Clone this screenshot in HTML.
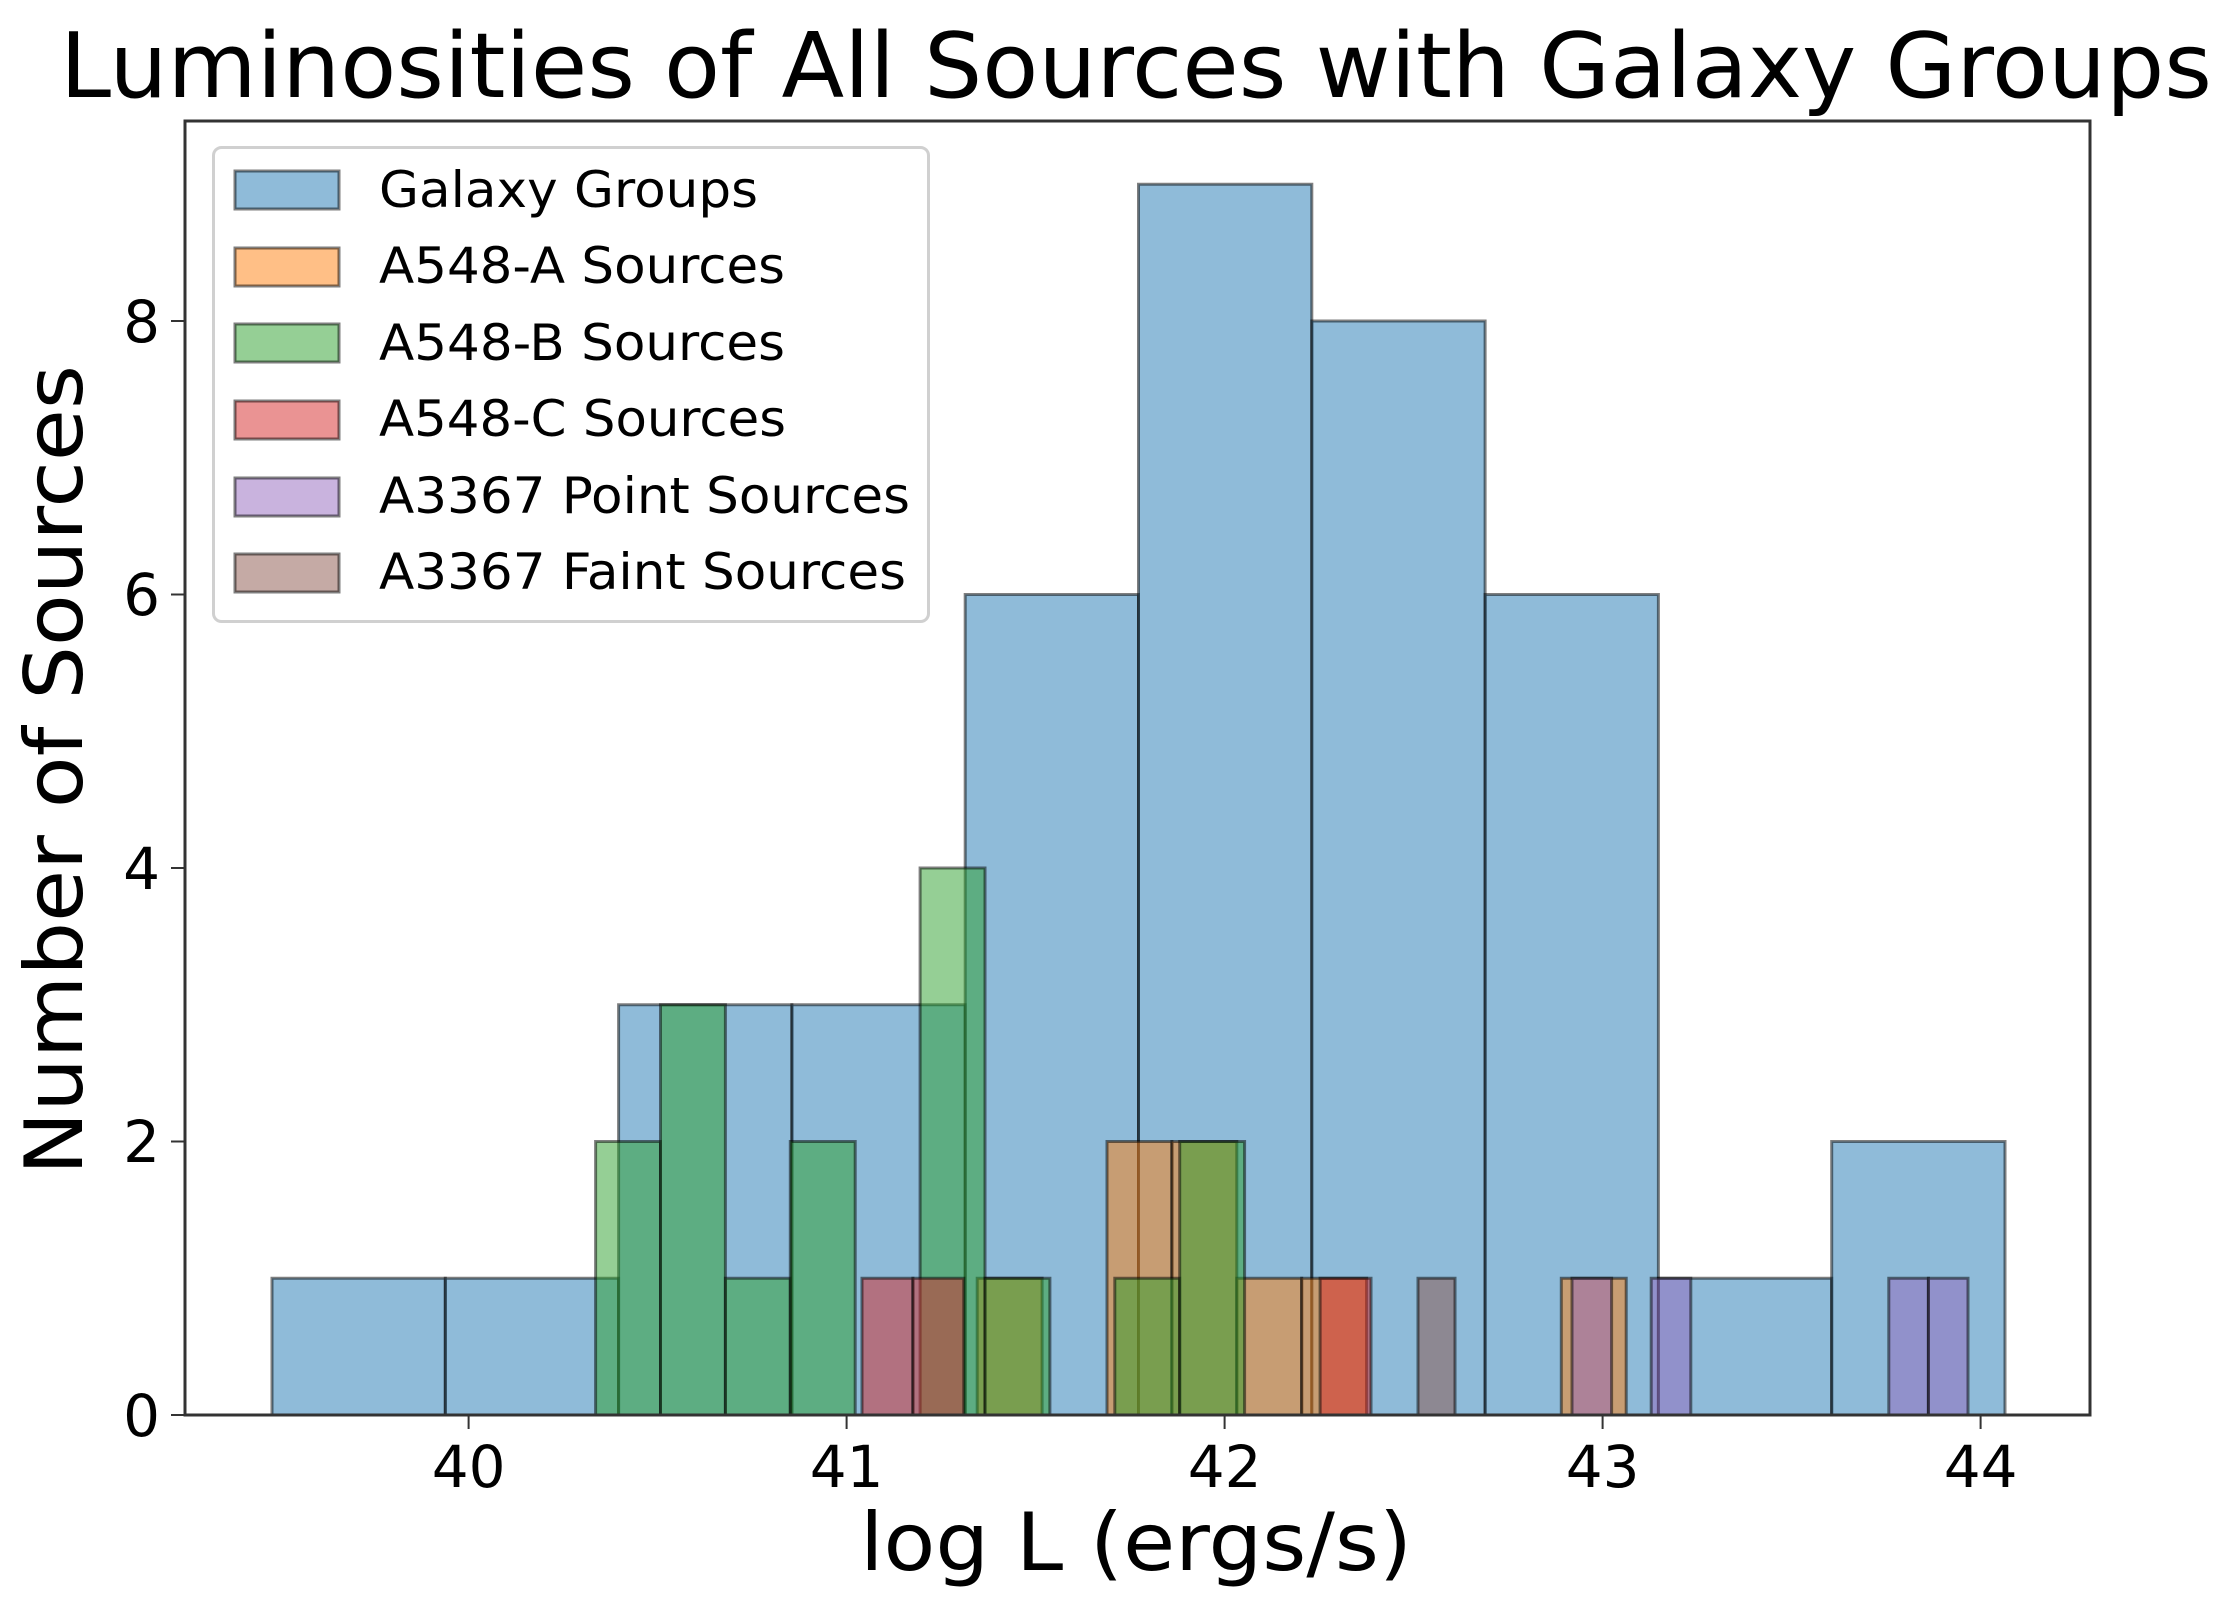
<!DOCTYPE html>
<html><head><meta charset="utf-8"><style>
html,body{margin:0;padding:0;background:#fff}
svg{display:block}
text{font-family:"DejaVu Sans","Liberation Sans",sans-serif;fill:#000}
</style></head><body>
<svg width="2230" height="1615" viewBox="0 0 2230 1615" xmlns="http://www.w3.org/2000/svg">
<rect width="2230" height="1615" fill="#fff"/>
<text x="60" y="97" font-size="90" textLength="2152" lengthAdjust="spacingAndGlyphs">Luminosities of All Sources with Galaxy Groups</text>

<g stroke="#000" stroke-opacity="0.5" stroke-width="3">
<g fill="#1f77b4" fill-opacity="0.5">
<rect x="272" y="1278.25" width="173.3" height="136.75"/>
<rect x="445.3" y="1278.25" width="173.3" height="136.75"/>
<rect x="618.6" y="1004.75" width="173.3" height="410.25"/>
<rect x="791.9" y="1004.75" width="173.3" height="410.25"/>
<rect x="965.2" y="594.5" width="173.3" height="820.5"/>
<rect x="1138.5" y="184.25" width="173.3" height="1230.75"/>
<rect x="1311.8" y="321" width="173.3" height="1094"/>
<rect x="1485.1" y="594.5" width="173.3" height="820.5"/>
<rect x="1658.4" y="1278.25" width="173.3" height="136.75"/>
<rect x="1831.7" y="1141.5" width="173.3" height="273.5"/>
</g>
<g fill="#ff7f0e" fill-opacity="0.5">
<rect x="977.2" y="1278.25" width="64.9" height="136.75"/>
<rect x="1107" y="1141.5" width="64.9" height="273.5"/>
<rect x="1171.9" y="1141.5" width="64.9" height="273.5"/>
<rect x="1236.8" y="1278.25" width="64.9" height="136.75"/>
<rect x="1301.7" y="1278.25" width="64.9" height="136.75"/>
<rect x="1561.3" y="1278.25" width="64.9" height="136.75"/>
</g>
<g fill="#2ca02c" fill-opacity="0.5">
<rect x="595.6" y="1141.5" width="64.9" height="273.5"/>
<rect x="660.5" y="1004.75" width="64.9" height="410.25"/>
<rect x="725.4" y="1278.25" width="64.9" height="136.75"/>
<rect x="790.3" y="1141.5" width="64.9" height="273.5"/>
<rect x="920.1" y="868" width="64.9" height="547"/>
<rect x="985" y="1278.25" width="64.9" height="136.75"/>
<rect x="1114.8" y="1278.25" width="64.9" height="136.75"/>
<rect x="1179.7" y="1141.5" width="64.9" height="273.5"/>
</g>
<g fill="#d62728" fill-opacity="0.5">
<rect x="862" y="1278.25" width="50.9" height="136.75"/>
<rect x="912.9" y="1278.25" width="50.9" height="136.75"/>
<rect x="1320.1" y="1278.25" width="50.9" height="136.75"/>
</g>
<g fill="#9467bd" fill-opacity="0.5">
<rect x="1572" y="1278.25" width="39.6" height="136.75"/>
<rect x="1651.2" y="1278.25" width="39.6" height="136.75"/>
<rect x="1888.8" y="1278.25" width="39.6" height="136.75"/>
<rect x="1928.4" y="1278.25" width="39.6" height="136.75"/>
</g>
<g fill="#8c564b" fill-opacity="0.5">
<rect x="1418" y="1278.25" width="37" height="136.75"/>
</g>
</g>

<rect x="185" y="121" width="1905" height="1294" fill="none" stroke="#333" stroke-width="3"/>

<g stroke="#333" stroke-width="2">
<line x1="468.6" y1="1415" x2="468.6" y2="1429"/>
<line x1="846.6" y1="1415" x2="846.6" y2="1429"/>
<line x1="1224.6" y1="1415" x2="1224.6" y2="1429"/>
<line x1="1602.6" y1="1415" x2="1602.6" y2="1429"/>
<line x1="1980.6" y1="1415" x2="1980.6" y2="1429"/>
<line x1="171" y1="1415" x2="185" y2="1415"/>
<line x1="171" y1="1141.5" x2="185" y2="1141.5"/>
<line x1="171" y1="868" x2="185" y2="868"/>
<line x1="171" y1="594.5" x2="185" y2="594.5"/>
<line x1="171" y1="321" x2="185" y2="321"/>
</g>
<g font-size="58" text-anchor="middle">
<text x="468.6" y="1487">40</text>
<text x="846.6" y="1487">41</text>
<text x="1224.6" y="1487">42</text>
<text x="1602.6" y="1487">43</text>
<text x="1980.6" y="1487">44</text>
</g>
<g font-size="58" text-anchor="end">
<text x="160" y="1436">0</text>
<text x="160" y="1162">2</text>
<text x="160" y="889">4</text>
<text x="160" y="615">6</text>
<text x="160" y="342">8</text>
</g>
<text x="860" y="1570" font-size="80" textLength="552" lengthAdjust="spacingAndGlyphs">log L (ergs/s)</text>
<text transform="translate(82,1175) rotate(-90)" font-size="80" textLength="810" lengthAdjust="spacingAndGlyphs">Number of Sources</text>

<rect x="213.5" y="147.5" width="715" height="474" rx="8" fill="#fff" fill-opacity="0.8" stroke="#d0d0d0" stroke-width="3"/>
<g stroke="#000" stroke-opacity="0.5" stroke-width="3" fill-opacity="0.5">
<rect x="235" y="171" width="104" height="38" fill="#1f77b4"/>
<rect x="235" y="248" width="104" height="38" fill="#ff7f0e"/>
<rect x="235" y="324" width="104" height="38" fill="#2ca02c"/>
<rect x="235" y="401" width="104" height="38" fill="#d62728"/>
<rect x="235" y="478" width="104" height="38" fill="#9467bd"/>
<rect x="235" y="554" width="104" height="38" fill="#8c564b"/>
</g>
<g font-size="50">
<text x="379" y="207" textLength="379" lengthAdjust="spacingAndGlyphs">Galaxy Groups</text>
<text x="379" y="283" textLength="406" lengthAdjust="spacingAndGlyphs">A548-A Sources</text>
<text x="379" y="360" textLength="406" lengthAdjust="spacingAndGlyphs">A548-B Sources</text>
<text x="379" y="436" textLength="407" lengthAdjust="spacingAndGlyphs">A548-C Sources</text>
<text x="379" y="513" textLength="531" lengthAdjust="spacingAndGlyphs">A3367 Point Sources</text>
<text x="379" y="589" textLength="527" lengthAdjust="spacingAndGlyphs">A3367 Faint Sources</text>
</g>
</svg>
</body></html>
